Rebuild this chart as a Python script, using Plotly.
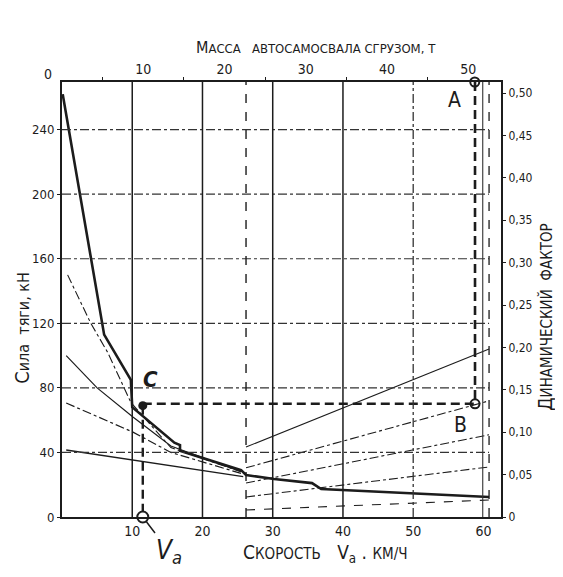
import plotly.graph_objects as go

# Тяговая характеристика (толстая линия): скорость, км/ч - сила тяги, кН
v_tyaga = [0.1, 5.6, 6.0, 9.8, 10.0, 16.0, 16.8, 16.8, 25.5, 26.2, 30.2, 35.6, 36.9, 60.8]
f_tyaga = [262, 121, 113, 85, 68, 46, 44.5, 41, 29, 26, 23.5, 21, 17.3, 12.4]

# тонкие кривые в левой части
v_k1 = [0.8, 4.1, 6.5, 9.8, 15.5, 25.5]
f_k1 = [150, 120, 102, 71, 43, 28]
v_k2 = [0.6, 5.0, 10.1, 15.5, 25.5]
f_k2 = [100, 80, 62, 44, 28]
v_k3 = [0.6, 10.1, 15.5, 25.5]
f_k3 = [70.6, 52.6, 40, 27]
v_k4 = [0.6, 25.8]
f_k4 = [41.5, 25]

# наклонные линии справа (динамический фактор)
v_luch = [26.2, 60.8]
d_luch1 = [0.0825, 0.198]
d_luch2 = [0.058, 0.137]
d_luch3 = [0.040, 0.097]
d_luch4 = [0.0236, 0.059]
d_luch5 = [0.0083, 0.020]

# построение A - B - C - Va
massa_A = 50.8
v_AB = 58.8
d_B = 0.1335
v_C = 11.5
f_C = 69.0

# сетка
f_grid = [40, 80, 120, 160, 200, 240]
v_grid = [10, 20, 30, 40]
v_grid_dd = [50]

v_ticks = [10, 20, 30, 40, 50, 60]
f_ticks = [0, 40, 80, 120, 160, 200, 240]
d_ticks = [0, 0.05, 0.10, 0.15, 0.20, 0.25, 0.30, 0.35, 0.40, 0.45, 0.50]
d_text = ['0', '0,05', '0,10', '0,15', '0,20', '0,25', '0,30', '0,35', '0,40', '0,45', '0,50']
m_ticks = [10, 20, 30, 40, 50]
m_minor = [5, 15, 25, 35, 45]

INK = '#1c1c1c'
FONT = 'DejaVu Sans Condensed, Liberation Sans Narrow, sans-serif'

fig = go.Figure()

# тяговая характеристика
fig.add_trace(go.Scatter(x=v_tyaga, y=f_tyaga, mode='lines',
                         line=dict(color=INK, width=2.6), showlegend=False))
# тонкие кривые
fig.add_trace(go.Scatter(x=v_k1, y=f_k1, mode='lines',
                         line=dict(color=INK, width=1.1, dash='dashdot'), showlegend=False))
fig.add_trace(go.Scatter(x=v_k2, y=f_k2, mode='lines',
                         line=dict(color=INK, width=1.2), showlegend=False))
fig.add_trace(go.Scatter(x=v_k3, y=f_k3, mode='lines',
                         line=dict(color=INK, width=1.2, dash='dashdot'), showlegend=False))
fig.add_trace(go.Scatter(x=v_k4, y=f_k4, mode='lines',
                         line=dict(color=INK, width=1.3), showlegend=False))

# лучи динамического фактора
for d_vals, st in [(d_luch1, 'solid'), (d_luch2, 'dashdot'), (d_luch3, 'dashdot'),
                   (d_luch4, 'dashdot'), (d_luch5, 'dash')]:
    fig.add_trace(go.Scatter(x=v_luch, y=d_vals, yaxis='y2', mode='lines',
                             line=dict(color=INK, width=1.1, dash=st), showlegend=False))

# сетка
for f in f_grid:
    fig.add_shape(type='line', xref='x', yref='y', x0=0, x1=60.8, y0=f, y1=f,
                  line=dict(color='#333', width=1.2, dash='dashdot'))
for v in v_grid:
    fig.add_shape(type='line', xref='x', yref='paper', x0=v, x1=v, y0=0, y1=1,
                  line=dict(color=INK, width=1.5))
for v in v_grid_dd:
    fig.add_shape(type='line', xref='x', yref='paper', x0=v, x1=v, y0=0, y1=1,
                  line=dict(color='#333', width=1.3, dash='dashdot'))
fig.add_shape(type='line', xref='x', yref='paper', x0=26.2, x1=26.2, y0=0, y1=1,
              line=dict(color=INK, width=1.4, dash='dash'))
fig.add_shape(type='line', xref='x', yref='paper', x0=59.9, x1=59.9, y0=0, y1=1,
              line=dict(color='#333', width=1.1))
fig.add_shape(type='line', xref='x', yref='paper', x0=60.8, x1=60.8, y0=0, y1=1,
              line=dict(color=INK, width=1.3, dash='dash'))

# построение A-B-C-Va
dash_big = '9px,5px'
fig.add_trace(go.Scatter(x=[v_AB, v_AB], y=[0.513, d_B], yaxis='y2', mode='lines',
                         line=dict(color=INK, width=2.6, dash=dash_big), showlegend=False))
fig.add_trace(go.Scatter(x=[v_C, v_AB], y=[d_B, d_B], yaxis='y2', mode='lines',
                         line=dict(color=INK, width=2.4, dash=dash_big), showlegend=False))
fig.add_trace(go.Scatter(x=[v_C, v_C], y=[f_C, 0], mode='lines',
                         line=dict(color=INK, width=2.4, dash=dash_big), showlegend=False))

fig.add_trace(go.Scatter(x=[v_AB], y=[d_B], yaxis='y2', mode='markers', cliponaxis=False,
                         marker=dict(symbol='circle-open', size=9, color=INK, line=dict(width=2)),
                         showlegend=False))
fig.add_trace(go.Scatter(x=[v_C], y=[f_C], mode='markers', cliponaxis=False,
                         marker=dict(symbol='circle', size=9, color=INK), showlegend=False))
fig.add_trace(go.Scatter(x=[v_C], y=[0], mode='markers', cliponaxis=False,
                         marker=dict(symbol='circle', size=11, color='white',
                                     line=dict(width=2, color=INK)), showlegend=False))
fig.add_trace(go.Scatter(x=[massa_A], y=[0.513], xaxis='x2', yaxis='y2', mode='markers',
                         cliponaxis=False,
                         marker=dict(symbol='circle-open', size=9, color=INK, line=dict(width=2)),
                         showlegend=False))

# подписи точек
fig.add_annotation(x=v_AB, y=0.513, xref='x', yref='y2', text='A', showarrow=False,
                   xshift=-21, yshift=-18, font=dict(size=21, color=INK, family=FONT))
fig.add_annotation(x=v_AB, y=d_B, xref='x', yref='y2', text='B', showarrow=False,
                   xshift=-15, yshift=-21, font=dict(size=21, color=INK, family=FONT))
fig.add_annotation(x=v_C, y=f_C, xref='x', yref='y', text='<i><b>C</b></i>', showarrow=False,
                   xshift=8, yshift=26, font=dict(size=22, color=INK, family=FONT))
fig.add_annotation(x=v_C, y=0, xref='x', yref='y', text='<i>V<sub>a</sub></i>',
                   showarrow=True, arrowhead=0, arrowwidth=1.5, arrowcolor=INK,
                   ax=26, ay=34, standoff=6, font=dict(size=26, color=INK, family=FONT))

# подписи осей
fig.add_annotation(xref='paper', yref='paper', x=-0.091, y=0.435, textangle=-90,
                   xanchor='center', yanchor='middle',
                   text='С<span style="font-size:16px">ила  тяги, кН</span>',
                   showarrow=False, font=dict(size=20, color=INK, family=FONT))
fig.add_annotation(xref='paper', yref='paper', x=1.1, y=0.46, textangle=-90,
                   xanchor='center', yanchor='middle',
                   text='Д<span style="font-size:15px">ИНАМИЧЕСКИЙ  ФАКТОР</span>',
                   showarrow=False, font=dict(size=19, color=INK, family=FONT))
fig.add_annotation(xref='paper', yref='paper', x=0.579, y=1.08,
                   xanchor='center', yanchor='middle',
                   text='М<span style="font-size:13px">АССА   АВТОСАМОСВАЛА СГРУЗОМ, Т</span>',
                   showarrow=False, font=dict(size=16, color=INK, family=FONT))
fig.add_annotation(xref='paper', yref='paper', x=0.6, y=-0.085,
                   xanchor='center', yanchor='middle',
                   text='С<span style="font-size:15px">КОРОСТЬ</span>   V<sub>a</sub> . <span style="font-size:15px">КМ/Ч</span>',
                   showarrow=False, font=dict(size=19, color=INK, family=FONT))
fig.add_annotation(x=0, y=1.0, xref='x2', yref='paper', text='0', showarrow=False,
                   xanchor='center', yanchor='middle',
                   xshift=-14, yshift=8, font=dict(size=14, color=INK, family=FONT))

# страница имеет отступ 8px, поэтому поля сдвинуты
fig.update_layout(
    width=563, height=577,
    margin=dict(l=54, r=70, t=74, b=68),
    paper_bgcolor='white', plot_bgcolor='white',
    font=dict(family=FONT, color=INK),
    showlegend=False,
    xaxis=dict(range=[0, 62.5], tickvals=v_ticks, showgrid=False, zeroline=False,
               showline=True, linecolor=INK, linewidth=2, ticks='',
               tickfont=dict(size=14)),
    xaxis2=dict(range=[0, 54.03], overlaying='x', side='top', tickvals=m_ticks,
                showgrid=False, zeroline=False, showline=True,
                linecolor=INK, linewidth=2, ticks='', tickfont=dict(size=14),
                minor=dict(tickvals=m_minor, ticks='outside', ticklen=3, tickcolor=INK,
                           showgrid=False)),
    yaxis=dict(range=[0, 269.5], tickvals=f_ticks, showgrid=False, zeroline=False,
               showline=True, linecolor=INK, linewidth=2, ticks='outside', ticklen=3,
               tickcolor=INK, tickfont=dict(size=13)),
    yaxis2=dict(range=[0, 0.513], overlaying='y', side='right', tickvals=d_ticks,
                ticktext=d_text, showgrid=False, zeroline=False, showline=True,
                linecolor=INK, linewidth=2, ticks='outside', ticklen=3, tickcolor=INK,
                tickfont=dict(size=12)),
)

fig.write_html("out.html")
